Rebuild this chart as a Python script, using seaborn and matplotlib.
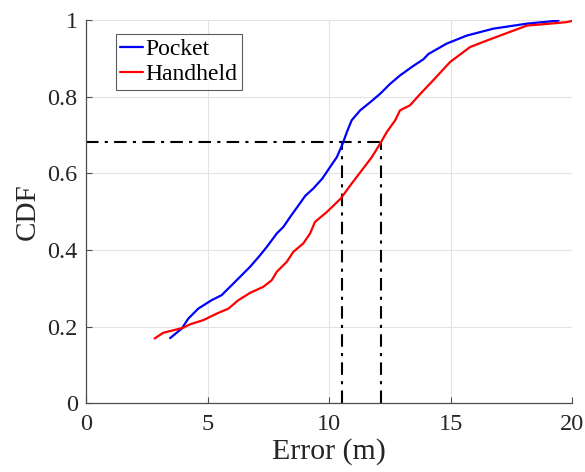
import numpy as np
import pandas as pd
import matplotlib
matplotlib.use("Agg")
import matplotlib.pyplot as plt
import seaborn as sns

# Empirical CDF of localisation error, pocket vs. handheld phone placement
pocket_err = [3.46, 3.94, 4.21, 4.62, 5.17, 5.58, 5.93, 6.34, 6.75, 7.16, 7.44,
              7.85, 8.12, 8.40, 8.74, 9.02, 9.35, 9.72, 10.04, 10.32, 10.56,
              10.73, 10.93, 11.28, 11.69, 12.10, 12.51, 12.92, 13.47, 13.88,
              14.09, 14.84, 15.67, 16.76, 18.14, 19.44]
pocket_cdf = [0.170, 0.195, 0.221, 0.247, 0.269, 0.282, 0.304, 0.330, 0.356,
              0.386, 0.408, 0.443, 0.460, 0.486, 0.516, 0.541, 0.560, 0.586,
              0.616, 0.642, 0.677, 0.707, 0.738, 0.764, 0.785, 0.807, 0.833,
              0.855, 0.880, 0.897, 0.911, 0.938, 0.959, 0.977, 0.990, 0.998]

handheld_err = [2.82, 3.18, 4.00, 4.28, 4.83, 5.38, 5.86, 6.27, 6.75, 7.30,
                7.64, 7.85, 8.26, 8.53, 8.94, 9.22, 9.42, 9.91, 10.48, 10.93,
                11.35, 11.76, 12.10, 12.37, 12.72, 12.92, 13.33, 13.74, 14.22,
                14.98, 15.80, 16.49, 17.04, 17.59, 18.14, 19.09, 19.78, 20.05]
handheld_cdf = [0.169, 0.184, 0.197, 0.206, 0.217, 0.234, 0.247, 0.269, 0.288,
                0.304, 0.321, 0.343, 0.369, 0.395, 0.417, 0.443, 0.473, 0.499,
                0.534, 0.573, 0.608, 0.642, 0.677, 0.707, 0.738, 0.764, 0.777,
                0.806, 0.838, 0.890, 0.929, 0.946, 0.959, 0.972, 0.985, 0.990,
                0.994, 0.998]

# Reference level and the error each placement reaches at that level
ref_cdf = 0.681
ref_err = [10.55, 12.13]

x_ticks = [0, 5, 10, 15, 20]
y_ticks = [0, 0.2, 0.4, 0.6, 0.8, 1]

df = pd.concat([
    pd.DataFrame({"Error": pocket_err, "CDF": pocket_cdf, "Placement": "Pocket"}),
    pd.DataFrame({"Error": handheld_err, "CDF": handheld_cdf, "Placement": "Handheld"}),
], ignore_index=True)

sns.set_theme(style="whitegrid")
plt.rcParams["font.family"] = ["Liberation Serif", "DejaVu Serif"]

fig = plt.figure(figsize=(5.85, 4.72), dpi=100)
ax = fig.add_axes([0.147, 0.1455, 0.831, 0.8125])

sns.lineplot(data=df, x="Error", y="CDF", hue="Placement", sort=False,
             palette={"Pocket": "#0000ff", "Handheld": "#ff0000"},
             linewidth=1.6, ax=ax, estimator=None)

# Dash-dot guide lines
ax.plot([0, ref_err[1]], [ref_cdf, ref_cdf], color="black", lw=1.5,
        linestyle=(0, (6, 3, 1.5, 3)), zorder=1)
for e in ref_err:
    ax.plot([e, e], [0, ref_cdf], color="black", lw=1.5,
            linestyle=(0, (6, 3, 1.5, 3)), zorder=1)

ax.set_xlim(0, 20)
ax.set_ylim(0, 1)
ax.set_xticks(x_ticks)
ax.set_yticks(y_ticks)
ax.set_xticklabels([str(t) for t in x_ticks])
ax.set_yticklabels(["0", "0.2", "0.4", "0.6", "0.8", "1"])
ax.set_xlabel("Error (m)", fontsize=21.5, color="#262626", labelpad=2)
ax.set_ylabel("CDF", fontsize=21, color="#262626", labelpad=5)

ax.grid(True, color="#e3e3e3", linewidth=0.8)
ax.set_facecolor("white")
for side in ["top", "right"]:
    ax.spines[side].set_visible(False)
for side in ["left", "bottom"]:
    ax.spines[side].set_visible(True)
    ax.spines[side].set_color("#4d4d4d")
    ax.spines[side].set_linewidth(0.9)

ax.tick_params(axis="both", which="major", direction="in", length=4,
               width=0.8, color="#4d4d4d", labelsize=17.5, labelcolor="#262626",
               bottom=True, left=True)
ax.tick_params(axis="x", pad=8)
ax.tick_params(axis="y", pad=6)

leg = ax.legend(loc="upper left", bbox_to_anchor=(0.061, 0.963), fontsize=17,
                frameon=True, fancybox=False, handlelength=0.95,
                handletextpad=0.1, borderpad=0.2, labelspacing=0.15,
                borderaxespad=0)
leg.get_frame().set_edgecolor("#333333")
leg.get_frame().set_linewidth(0.8)
for t in leg.get_texts():
    t.set_color("black")

fig.savefig("out.png", dpi=100, facecolor="white")
